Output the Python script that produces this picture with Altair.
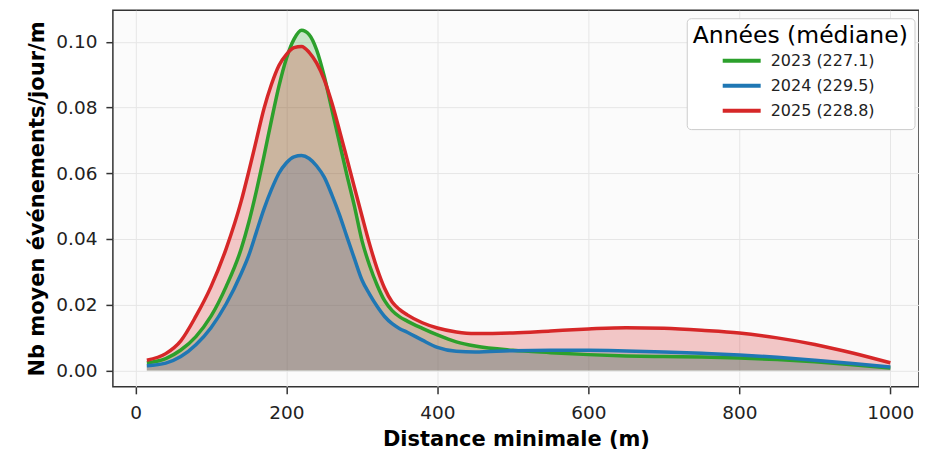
import altair as alt
import pandas as pd

distance = [15, 40, 60, 80, 100, 120, 140, 150, 160, 170, 180, 190, 200, 210, 220, 230,
            240, 250, 260, 270, 280, 290, 300, 310, 320, 330, 340, 350, 360, 380, 400, 425,
            450, 500, 550, 600, 650, 700, 750, 800, 850, 900, 950, 1000]

y2023 = [0.0023, 0.0036, 0.0062, 0.0103, 0.0165, 0.0255, 0.0370, 0.0450, 0.0545, 0.0650,
         0.0760, 0.0865, 0.0950, 0.1008, 0.1035, 0.1022, 0.0975, 0.0895, 0.0795, 0.0695,
         0.0595, 0.0500, 0.0395, 0.0320, 0.0260, 0.0212, 0.0182, 0.0163, 0.0150, 0.0128,
         0.0108, 0.0087, 0.0074, 0.0061, 0.0054, 0.0048, 0.0044, 0.0042, 0.0041, 0.0038,
         0.0033, 0.0026, 0.0017, 0.0007]

y2024 = [0.0014, 0.0022, 0.0042, 0.0078, 0.0130, 0.0202, 0.0295, 0.0350, 0.0420, 0.0490,
         0.0550, 0.0600, 0.0632, 0.0650, 0.0654, 0.0645, 0.0622, 0.0588, 0.0535, 0.0475,
         0.0407, 0.0340, 0.0275, 0.0232, 0.0195, 0.0164, 0.0142, 0.0127, 0.0116, 0.0092,
         0.0070, 0.0058, 0.0056, 0.0060, 0.0061, 0.0061, 0.0059, 0.0056, 0.0052, 0.0047,
         0.0040, 0.0031, 0.0021, 0.0010]

y2025 = [0.0031, 0.0051, 0.0090, 0.0165, 0.0255, 0.0370, 0.0515, 0.0605, 0.0700, 0.0795,
         0.0870, 0.0928, 0.0962, 0.0982, 0.0986, 0.0968, 0.0935, 0.0885, 0.0815, 0.0732,
         0.0645, 0.0557, 0.0470, 0.0385, 0.0310, 0.0250, 0.0208, 0.0185, 0.0169, 0.0145,
         0.0129, 0.0117, 0.0112, 0.0114, 0.0120, 0.0126, 0.0130, 0.0128, 0.0122, 0.0114,
         0.0099, 0.0079, 0.0053, 0.0023]

years = ["2023", "2024", "2025"]
medians = ["227.1", "229.5", "228.8"]
colors = ["#2ca02c", "#1f77b4", "#d62728"]
x_ticks = [0, 200, 400, 600, 800, 1000]
y_ticks = [0.00, 0.02, 0.04, 0.06, 0.08, 0.10]

labels = [f"{y} ({m})" for y, m in zip(years, medians)]
fill_labels = [f"aire {lab}" for lab in labels]
rows = []
for lab, flab, vals in zip(labels, fill_labels, [y2023, y2024, y2025]):
    for d, v in zip(distance, vals):
        rows.append({"distance": d, "valeur": v, "serie": lab, "aire": flab})
df = pd.DataFrame(rows)

x_enc = alt.X("distance:Q",
              scale=alt.Scale(domain=[-30, 1038], nice=False, zero=False),
              axis=alt.Axis(values=x_ticks, format="d", title="Distance minimale (m)",
                            labelPadding=10, titlePadding=6))
y_enc = alt.Y("valeur:Q",
              scale=alt.Scale(domain=[-0.005, 0.1096], nice=False, zero=False),
              axis=alt.Axis(values=y_ticks, format=".2f", title="Nb moyen événements/jour/m",
                            labelPadding=9, titlePadding=8))

area = alt.Chart(df).mark_area(opacity=0.25, interpolate="monotone").encode(
    x=x_enc,
    y=y_enc,
    y2=alt.datum(0),
    fill=alt.Fill("aire:N", scale=alt.Scale(domain=fill_labels, range=colors), legend=None),
)

line = alt.Chart(df).mark_line(strokeWidth=3.5, interpolate="monotone").encode(
    x=x_enc,
    y=y_enc,
    stroke=alt.Stroke(
        "serie:N",
        scale=alt.Scale(domain=labels, range=colors),
        legend=alt.Legend(
            title="Années (médiane)",
            orient="none",
            legendX=574.5,
            legendY=8,
            titleFontSize=23.5,
            titleFontWeight="normal",
            titleColor="black",
            titleAnchor="start",
            titleLimit=400,
            titlePadding=1,
            labelFontSize=16,
            labelLimit=300,
            labelColor="#222222",
            symbolType="stroke",
            symbolSize=1444,
            symbolStrokeWidth=4,
            padding=6,
            fillColor="white",
            strokeColor="#cccccc",
            cornerRadius=4,
            clipHeight=24,
            rowPadding=1,
            symbolOffset=28,
            labelOffset=8,
        ),
    ),
)

chart = (
    alt.layer(area, line)
    .properties(width=807, height=377, padding={"left": 18, "top": 2, "right": 0, "bottom": 0})
    .configure(font="DejaVu Sans")
    .configure_view(stroke="#333333", strokeWidth=1.5, fill="#fbfbfb")
    .configure_axis(
        labelFontSize=18.5,
        labelColor="#222222",
        titleFontSize=21,
        titleFontWeight="bold",
        titleColor="black",
        tickSize=7,
        tickWidth=1.5,
        tickColor="#333333",
        domain=False,
        gridColor="#e6e6e6",
        gridWidth=1,
    )
)

chart.save("out.html", embed_options={"renderer": "svg", "actions": False})
